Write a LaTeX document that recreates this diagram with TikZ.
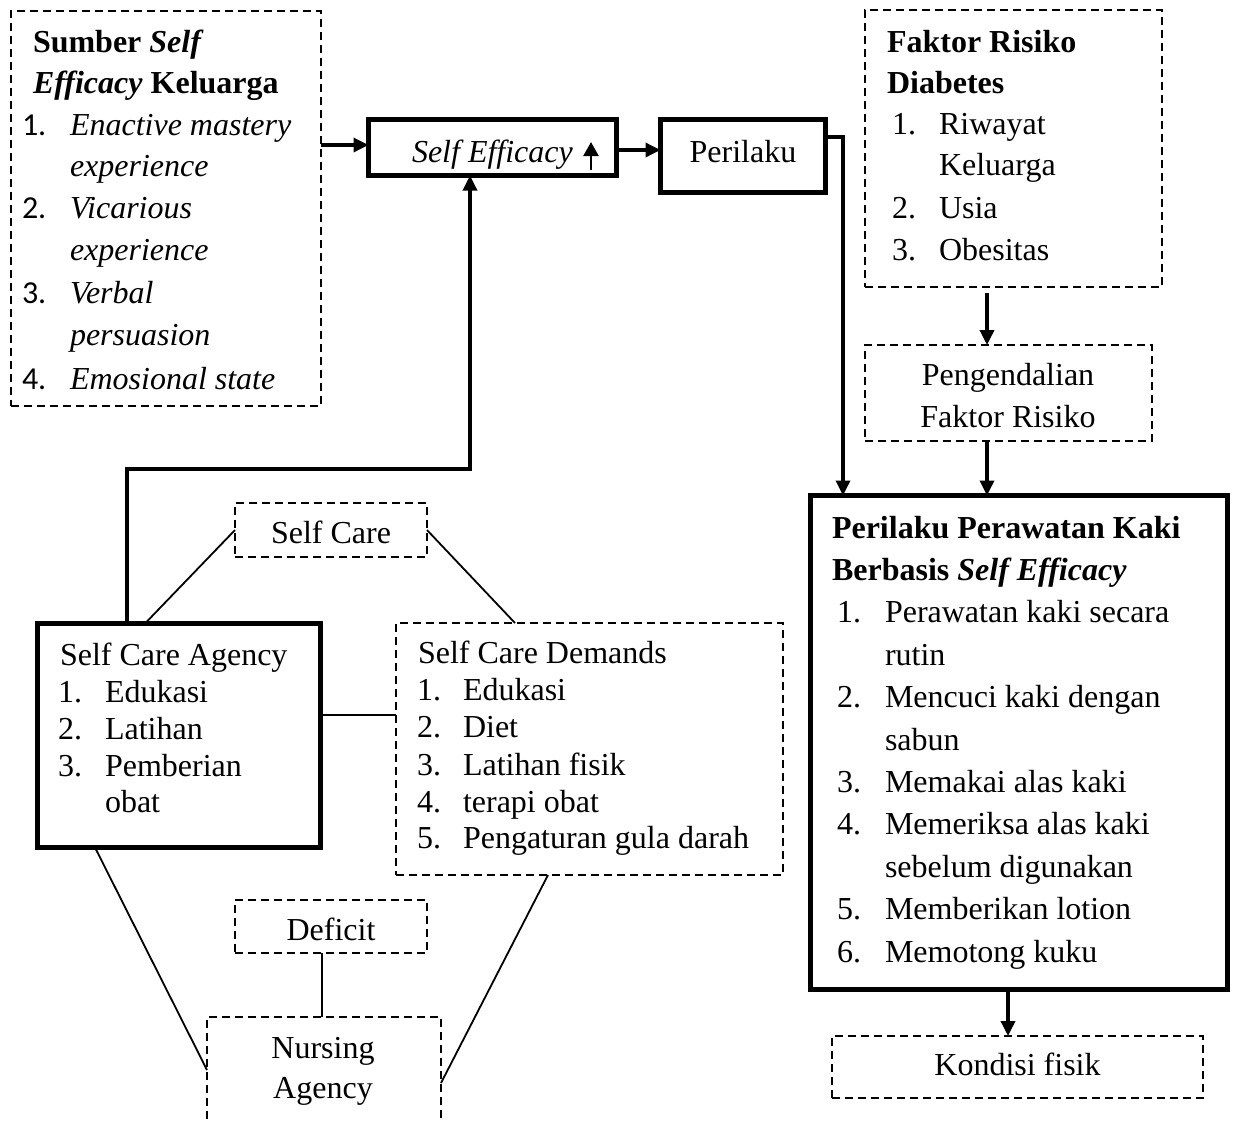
\documentclass[tikz,border=0pt]{standalone}
\usepackage{fontspec}
\setmainfont{Liberation Serif}
\newfontfamily\numfont{Carlito}
\usetikzlibrary{arrows.meta,fit}
\begin{document}
\begin{tikzpicture}[x=0.5pt,y=-0.5pt,
  font=\fontsize{16pt}{20pt}\selectfont,
  every node/.style={inner sep=0pt, outer sep=0pt},
  frame/.style={draw, line width=2.6pt},
  dframe/.style={draw, line width=0.9pt, dash pattern=on 4pt off 2.5pt},
  lbl/.style={anchor=base west},
  clbl/.style={anchor=base},
  arr/.style={line width=1.7pt, -{Triangle[length=7.5pt,width=7pt]}},
  link/.style={line width=0.9pt},
]
\clip (0,0) rectangle (1235,1121);

% ---------- boxes ----------
\node[dframe, fit={(11,11) (321,406)}] (src) {};
\node[frame,  fit={(368.5,119.5) (616.5,175.5)}] (se) {};
\node[frame,  fit={(660.5,119.5) (825.5,192.5)}] (per) {};
\node[dframe, fit={(865,10) (1162,287)}] (fr) {};
\node[dframe, fit={(865,345) (1152,441)}] (peng) {};
\node[frame,  fit={(810.5,495.5) (1227.5,989.5)}] (pp) {};
\node[dframe, fit={(832,1036) (1203,1098)}] (kond) {};
\node[dframe, fit={(235,503) (427,557)}] (sc) {};
\node[frame,  fit={(37.5,623.5) (320.5,847.5)}] (sca) {};
\node[dframe, fit={(396,623) (783,875)}] (scd) {};
\node[dframe, fit={(235,900) (427,953)}] (def) {};
\node[dframe, fit={(207,1017) (441,1170)}] (nurs) {};

% ---------- texts: sources of self efficacy ----------
\node[lbl] (srcA) at (33,52) {\textbf{Sumber \textit{Self}}};
\node[lbl] (srcB) at (33,93.5) {\textbf{\textit{Efficacy} Keluarga}};
\node[lbl] (srcN1) at (22,135) {\numfont 1.};
\node[lbl] (srcI1) at (70,135) {\textit{Enactive mastery}};
\node[lbl] (srcI1b) at (70,176.5) {\textit{experience}};
\node[lbl] (srcN2) at (22,218.5) {\numfont 2.};
\node[lbl] (srcI2) at (70,218.5) {\textit{Vicarious}};
\node[lbl] (srcI2b) at (70,260.5) {\textit{experience}};
\node[lbl] (srcN3) at (22,303) {\numfont 3.};
\node[lbl] (srcI3) at (70,303) {\textit{Verbal}};
\node[lbl] (srcI3b) at (70,345) {\textit{persuasion}};
\node[lbl] (srcN4) at (22,389) {\numfont 4.};
\node[lbl] (srcI4) at (70,389) {\textit{Emosional state}};

% ---------- self efficacy and behaviour ----------
\node[lbl] (seT) at (412,162) {\textit{Self Efficacy}};
\draw[line width=1.2pt, -{Triangle[length=7pt,width=7.5pt]}] (591,170) -- (591,142);
\node[clbl] (perT) at (743,162) {Perilaku};

% ---------- diabetes risk factors ----------
\node[lbl] (frA) at (887,52) {\textbf{Faktor Risiko}};
\node[lbl] (frB) at (887,93) {\textbf{Diabetes}};
\node[lbl] (frN1) at (892,134) {1.};
\node[lbl] (frI1) at (939,134) {Riwayat};
\node[lbl] (frI1b) at (939,175.5) {Keluarga};
\node[lbl] (frN2) at (892,218) {2.};
\node[lbl] (frI2) at (939,218) {Usia};
\node[lbl] (frN3) at (892,260) {3.};
\node[lbl] (frI3) at (939,260) {Obesitas};

\node[clbl] (pengA) at (1008,385) {Pengendalian};
\node[clbl] (pengB) at (1008,427) {Faktor Risiko};

% ---------- foot care behaviour ----------
\node[lbl] (ppA) at (832,538) {\textbf{Perilaku Perawatan Kaki}};
\node[lbl] (ppB) at (832,580.4) {\textbf{Berbasis \textit{Self Efficacy}}};
\node[lbl] (ppN1) at (837,622.8) {1.};
\node[lbl] (ppI1) at (885,622.8) {Perawatan kaki secara};
\node[lbl] (ppI1b) at (885,665.2) {rutin};
\node[lbl] (ppN2) at (837,707.6) {2.};
\node[lbl] (ppI2) at (885,707.6) {Mencuci kaki dengan};
\node[lbl] (ppI2b) at (885,750) {sabun};
\node[lbl] (ppN3) at (837,792.4) {3.};
\node[lbl] (ppI3) at (885,792.4) {Memakai alas kaki};
\node[lbl] (ppN4) at (837,834.8) {4.};
\node[lbl] (ppI4) at (885,834.8) {Memeriksa alas kaki};
\node[lbl] (ppI4b) at (885,877.2) {sebelum digunakan};
\node[lbl] (ppN5) at (837,919.6) {5.};
\node[lbl] (ppI5) at (885,919.6) {Memberikan lotion};
\node[lbl] (ppN6) at (837,962) {6.};
\node[lbl] (ppI6) at (885,962) {Memotong kuku};

\node[clbl] (kondT) at (1017.5,1075) {Kondisi fisik};

% ---------- self care ----------
\node[clbl] (scT) at (331,543) {Self Care};

\node[lbl] (scaA) at (60,665) {Self Care Agency};
\node[lbl] (scaN1) at (58,702) {1.};
\node[lbl] (scaI1) at (105,702) {Edukasi};
\node[lbl] (scaN2) at (58,739) {2.};
\node[lbl] (scaI2) at (105,739) {Latihan};
\node[lbl] (scaN3) at (58,776) {3.};
\node[lbl] (scaI3) at (105,776) {Pemberian};
\node[lbl] (scaI3b) at (105,812.5) {obat};

\node[lbl] (scdA) at (418,663) {Self Care Demands};
\node[lbl] (scdN1) at (417,700) {1.};
\node[lbl] (scdI1) at (463,700) {Edukasi};
\node[lbl] (scdN2) at (417,737) {2.};
\node[lbl] (scdI2) at (463,737) {Diet};
\node[lbl] (scdN3) at (417,775) {3.};
\node[lbl] (scdI3) at (463,775) {Latihan fisik};
\node[lbl] (scdN4) at (417,812) {4.};
\node[lbl] (scdI4) at (463,812) {terapi obat};
\node[lbl] (scdN5) at (417,848) {5.};
\node[lbl] (scdI5) at (463,848) {Pengaturan gula darah};

\node[clbl] (defT) at (331,940) {Deficit};
\node[clbl] (nursA) at (323,1058) {Nursing};
\node[clbl] (nursB) at (323,1098) {Agency};

% ---------- connector helper points ----------
\coordinate (yIn)   at (0,145);
\coordinate (yOut)  at (0,150);
\coordinate (yPer)  at (0,137);
\coordinate (xDown) at (843,0);
\coordinate (xRisk) at (987,0);
\coordinate (xKond) at (1008,0);
\coordinate (xUp)   at (127,0);
\coordinate (bend)  at (470,469);
\coordinate (yLink) at (0,715);

% ---------- arrows ----------
\draw[arr] (src.east |- yIn) -- (se.west |- yIn);
\draw[arr] (se.east |- yOut) -- (per.west |- yOut);
\draw[arr] (per.east |- yPer) -| (pp.north -| xDown);
\draw[arr] ([yshift=-3pt]fr.south -| xRisk) -- (peng.north -| xRisk);
\draw[arr] (peng.south -| xRisk) -- (pp.north -| xRisk);
\draw[arr] (pp.south -| xKond) -- (kond.north -| xKond);
\draw[arr] (sca.north -| xUp) |- (bend) -- (se.south -| bend);

% ---------- plain links ----------
\coordinate (scaTop) at (145,623.5);
\coordinate (scdTop) at (515,623);
\coordinate (scaBot) at (95,847.5);
\coordinate (scdBot) at (548,875);
\coordinate (nursL)  at (207,1070);
\coordinate (nursR)  at (441,1083);
\coordinate (xDef)   at (322,0);
\draw[link] (sc.west) -- (scaTop);
\draw[link] (sc.east) -- (scdTop);
\draw[link] (sca.east |- yLink) -- (scd.west |- yLink);
\draw[link] (scaBot) -- (nursL);
\draw[link] (scdBot) -- (nursR);
\draw[link] (def.south -| xDef) -- (nurs.north -| xDef);
\end{tikzpicture}
\end{document}
